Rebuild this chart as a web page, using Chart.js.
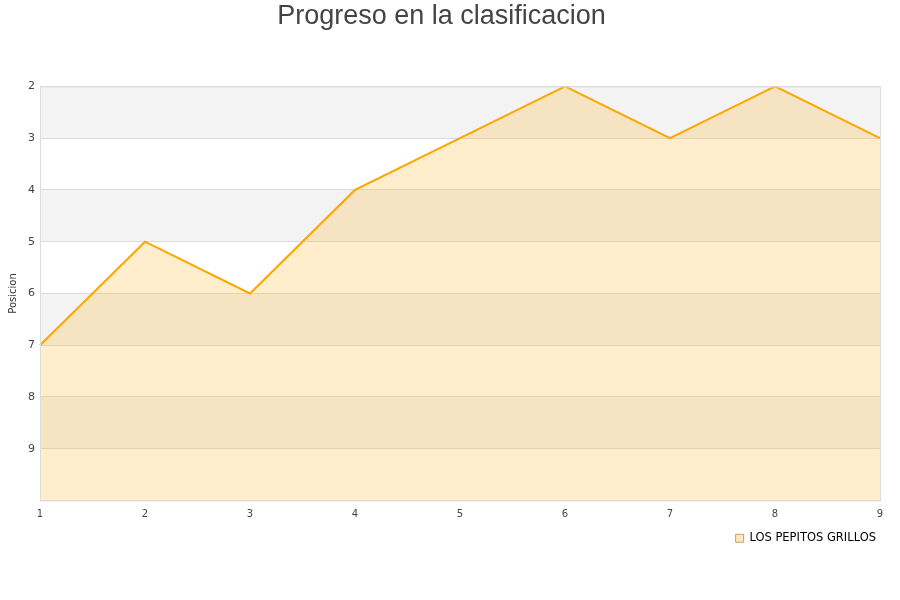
<!DOCTYPE html>
<html>
<head>
<meta charset="utf-8">
<script src="https://cdn.jsdelivr.net/npm/chart.js@4"></script>
<style>
  body { margin: 0; background: #fff; }
  #wrap { width: 900px; height: 600px; }
</style>
</head>
<body>
<div id="wrap"><canvas id="chart"></canvas></div>
<script>
let jornadas = ['1', '2', '3', '4', '5', '6', '7', '8', '9'];
let posiciones = [7, 5, 6, 4, 3, 2, 3, 2, 3];
let equipo = 'LOS PEPITOS GRILLOS';
let posMin = 2;
let posMax = 10;

// alternate grey / white bands behind the plot + frame
const bandsPlugin = {
    id: 'bands',
    beforeDraw(chart) {
        const ctx = chart.ctx;
        const area = chart.chartArea;
        const y = chart.scales.y;
        ctx.save();
        for (let v = posMin; v < posMax; v++) {
            if ((v - posMin) % 2 == 0) {
                let top = y.getPixelForValue(v);
                let bot = y.getPixelForValue(v + 1);
                ctx.fillStyle = '#f3f3f3';
                ctx.fillRect(area.left, top, area.right - area.left, bot - top);
            }
        }
        ctx.restore();
    },
    afterDraw(chart) {
        const ctx = chart.ctx;
        const area = chart.chartArea;
        ctx.save();
        ctx.strokeStyle = '#dcdcdc';
        ctx.lineWidth = 1;
        ctx.strokeRect(area.left + 0.5, area.top + 0.5, area.right - area.left, area.bottom - area.top);
        ctx.restore();
    }
};

const ctx = document.getElementById('chart').getContext('2d');
const chart = new Chart(ctx, {
    type: 'line',
    data: {
        labels: jornadas,
        datasets: [{
            label: equipo,
            data: posiciones,
            borderColor: '#ffa500',
            backgroundColor: 'rgba(255, 165, 0, 0.2)',
            borderWidth: 2,
            fill: 'start',
            pointRadius: 0,
            tension: 0
        }]
    },
    options: {
        responsive: true,
        maintainAspectRatio: false,
        animation: false,
        layout: {
            padding: { left: 3, right: 20, top: 0, bottom: 46 }
        },
        plugins: {
            title: {
                display: true,
                text: 'Progreso en la clasificacion',
                color: '#444',
                font: { family: 'Liberation Sans', size: 27, weight: 'normal' },
                padding: { top: 0, bottom: 54 }
            },
            legend: {
                position: 'bottom',
                align: 'end',
                labels: {
                    boxWidth: 8,
                    boxHeight: 8,
                    padding: 4,
                    color: '#222',
                    font: { family: 'DejaVu Sans', size: 11.5 },
                    generateLabels(chart) {
                        return [{
                            text: equipo,
                            fillStyle: 'rgba(255, 165, 0, 0.25)',
                            strokeStyle: '#c8a060',
                            lineWidth: 1,
                            datasetIndex: 0
                        }];
                    }
                }
            },
            tooltip: { enabled: false }
        },
        scales: {
            x: {
                offset: false,
                grid: { display: false, drawTicks: false },
                border: { display: false },
                ticks: {
                    color: '#444',
                    font: { family: 'DejaVu Sans', size: 10 },
                    padding: 8,
                    maxRotation: 0
                }
            },
            y: {
                reverse: true,
                min: posMin,
                max: posMax,
                grid: { color: '#dcdcdc', drawTicks: false },
                border: { display: false },
                ticks: {
                    stepSize: 1,
                    color: '#444',
                    font: { family: 'DejaVu Sans', size: 11 },
                    padding: 5,
                    callback: (v) => v == posMax ? '' : v
                },
                title: {
                    display: true,
                    text: 'Posicion',
                    color: '#333',
                    font: { family: 'DejaVu Sans', size: 10 },
                    padding: 4
                }
            }
        }
    },
    plugins: [bandsPlugin]
});
</script>
</body>
</html>
